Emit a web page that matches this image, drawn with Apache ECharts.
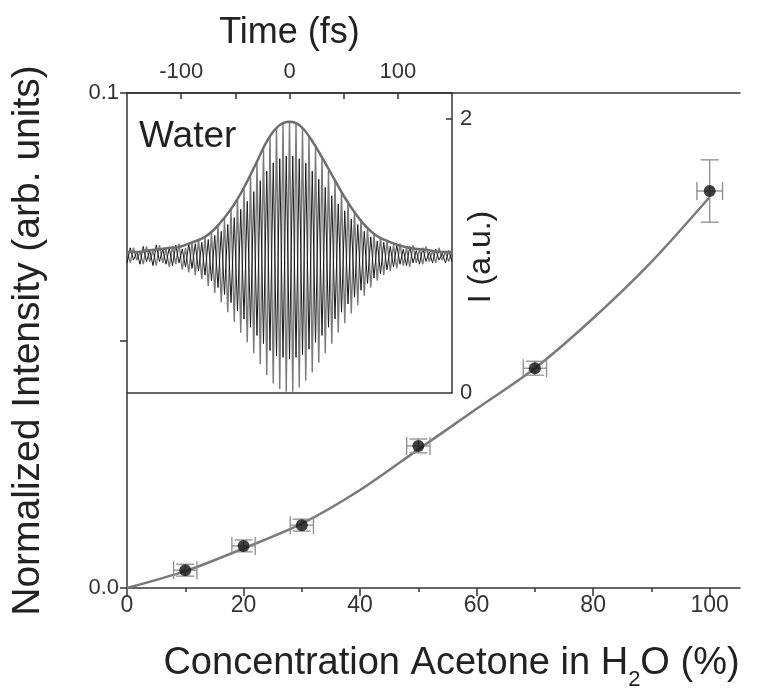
<!DOCTYPE html>
<html>
<head>
<meta charset="utf-8">
<script src="https://cdn.jsdelivr.net/npm/echarts@6/dist/echarts.min.js"></script>
<style>
html, body { margin: 0; padding: 0; background: #fff; }
#chart { width: 760px; height: 692px; }
</style>
</head>
<body>
<div id="chart"></div>
<script>
// main plot: measured points
var concentration = [10, 20, 30, 50, 70, 100];
var intensity = [0.0036, 0.0085, 0.0127, 0.0287, 0.0444, 0.0802];
var concErr = [2, 2, 2, 2, 2, 2.2];
var intensityErr = [0.0012, 0.0012, 0.0012, 0.0014, 0.0014, 0.0063];

// fitted curve
var fitX = [0, 10, 20, 30, 40, 50, 60, 70, 80, 90, 100];
var fitY = [0, 0.0034, 0.0080, 0.0130, 0.0198, 0.0280, 0.0362, 0.0444, 0.0545, 0.0659, 0.0790];

var concTicks = [0, 20, 40, 60, 80, 100];
var concMinorTicks = [10, 30, 50, 70, 90];
var intensityTicks = [0, 0.05, 0.1];
var intensityLabels = [0, 0.1];

// inset: autocorrelation trace (water)
var timeTicks = [-100, -50, 0, 50, 100];
var timeLabels = [-100, 0, 100];
var autoTicks = [2];
var autoLabels = [0, 2];

// grey trace: maxima every 6 fs from -150, minima every 6 fs from -147
var greyPeaks = [1.04, 1.06, 1.03, 1.07, 1.04, 1.08, 1.05, 1.07, 1.09, 1.06,
  1.10, 1.12, 1.14, 1.17, 1.22, 1.27, 1.34, 1.41, 1.49, 1.58,
  1.68, 1.78, 1.87, 1.93, 1.97, 1.98, 1.97, 1.93, 1.87, 1.79,
  1.71, 1.62, 1.55, 1.47, 1.40, 1.33, 1.27, 1.21, 1.16, 1.14,
  1.11, 1.08, 1.09, 1.06, 1.08, 1.05, 1.07, 1.04, 1.06, 1.03, 1.04];
var greyTroughs = [0.95, 0.97, 0.94, 0.96, 0.93, 0.95, 0.92, 0.94, 0.90, 0.88,
  0.86, 0.83, 0.78, 0.73, 0.66, 0.59, 0.52, 0.44, 0.37, 0.29,
  0.21, 0.13, 0.07, 0.03, 0.01, 0.01, 0.04, 0.09, 0.15, 0.22,
  0.29, 0.36, 0.44, 0.51, 0.58, 0.64, 0.71, 0.77, 0.82, 0.86,
  0.89, 0.91, 0.93, 0.92, 0.95, 0.94, 0.96, 0.95, 0.97, 0.96];

// black trace: minima every 6 fs from -150, maxima every 6 fs from -147
var blackTroughs = [0.95, 0.97, 0.94, 0.96, 0.93, 0.96, 0.94, 0.93, 0.95, 0.92,
  0.91, 0.89, 0.86, 0.82, 0.77, 0.72, 0.66, 0.60, 0.54, 0.48,
  0.42, 0.36, 0.31, 0.27, 0.26, 0.25, 0.26, 0.28, 0.32, 0.37,
  0.42, 0.48, 0.54, 0.59, 0.65, 0.70, 0.75, 0.80, 0.84, 0.87,
  0.90, 0.92, 0.94, 0.93, 0.95, 0.94, 0.96, 0.95, 0.97, 0.95, 0.96];
var blackPeaks = [1.06, 1.03, 1.07, 1.04, 1.08, 1.05, 1.06, 1.08, 1.05, 1.09,
  1.09, 1.10, 1.12, 1.15, 1.18, 1.23, 1.28, 1.34, 1.40, 1.47,
  1.55, 1.62, 1.68, 1.71, 1.73, 1.73, 1.71, 1.68, 1.62, 1.56,
  1.50, 1.44, 1.38, 1.33, 1.27, 1.23, 1.18, 1.14, 1.11, 1.10,
  1.07, 1.08, 1.05, 1.07, 1.04, 1.06, 1.03, 1.05, 1.02, 1.04];

// smooth envelope every 10 fs from -150 to 150
var envTime = [-150, -140, -130, -120, -110, -100, -90, -80, -70, -60, -50, -40, -30, -20, -10,
  0, 10, 20, 30, 40, 50, 60, 70, 80, 90, 100, 110, 120, 130, 140, 150];
var envValue = [1.03, 1.03, 1.04, 1.05, 1.06, 1.07, 1.10, 1.13, 1.19, 1.28, 1.39, 1.53, 1.69, 1.85, 1.95,
  1.98, 1.95, 1.85, 1.72, 1.58, 1.44, 1.32, 1.22, 1.15, 1.11, 1.08, 1.06, 1.05, 1.04, 1.03, 1.03];

var FONT = 'Liberation Sans, Arial, sans-serif';
var LINE = '#333';

var pointData = concentration.map(function (c, i) {
  return [c, intensity[i], concErr[i], intensityErr[i]];
});
var fitData = fitX.map(function (x, i) { return [x, fitY[i]]; });

// interleave extremes: even slots at -150 + 6i, odd slots at -147 + 6i
function trace(even, odd) {
  var out = [];
  for (var i = 0; i < even.length; i++) {
    out.push([-150 + 6 * i, even[i]]);
    if (i < odd.length) out.push([-147 + 6 * i, odd[i]]);
  }
  return out;
}
var greyData = trace(greyPeaks, greyTroughs);
var blackData = trace(blackTroughs, blackPeaks);
var envData = envTime.map(function (t, i) { return [t, envValue[i]]; });

function plainAxis(grid, pos, min, max) {
  return {
    gridIndex: grid, type: 'value', position: pos, min: min, max: max,
    axisLine: { show: true, onZero: false, lineStyle: { color: LINE, width: 1.5 } },
    axisTick: { show: false }, axisLabel: { show: false }, splitLine: { show: false }
  };
}

function errorBars(params, api) {
  var x = api.value(0), y = api.value(1), ex = api.value(2), ey = api.value(3);
  var c = api.coord([x, y]);
  var l = api.coord([x - ex, y]);
  var r = api.coord([x + ex, y]);
  var t = api.coord([x, y + ey]);
  var b = api.coord([x, y - ey]);
  var cap = 9;
  var st = { stroke: '#8c8c8c', lineWidth: 1.3 };
  function seg(x1, y1, x2, y2) {
    return { type: 'line', shape: { x1: x1, y1: y1, x2: x2, y2: y2 }, style: st };
  }
  return {
    type: 'group',
    children: [
      seg(l[0], c[1], r[0], c[1]),
      seg(l[0], c[1] - cap, l[0], c[1] + cap),
      seg(r[0], c[1] - cap, r[0], c[1] + cap),
      seg(c[0], t[1], c[0], b[1]),
      seg(c[0] - cap, t[1], c[0] + cap, t[1]),
      seg(c[0] - cap, b[1], c[0] + cap, b[1])
    ]
  };
}

var chart = echarts.init(document.getElementById('chart'));
var option = {
  backgroundColor: '#fff',
  animation: false,
  textStyle: { fontFamily: FONT },
  grid: [
    { left: 127, top: 93, width: 613, height: 495, outerBoundsMode: 'none', containLabel: false },
    { left: 127, top: 93, width: 325, height: 300, outerBoundsMode: 'none', containLabel: false }
  ],
  xAxis: [
    {
      gridIndex: 0, type: 'value', position: 'bottom', min: 0, max: 105.2,
      axisLine: { onZero: false, lineStyle: { color: LINE, width: 1.5 } },
      axisTick: { customValues: concTicks, length: 8, lineStyle: { color: LINE, width: 1.5 } },
      axisLabel: { customValues: concTicks, fontSize: 23, color: '#333', margin: 6, fontFamily: FONT },
      splitLine: { show: false },
      name: '{a|Concentration Acetone in H}{s|2}{a|O (%)}',
      nameLocation: 'middle', nameGap: 57,
      nameTextStyle: {
        fontFamily: FONT, color: '#222', padding: [0, 0, 0, 36],
        rich: {
          a: { fontSize: 38, fontFamily: FONT, color: '#222', lineHeight: 46, verticalAlign: 'top' },
          s: { fontSize: 22, fontFamily: FONT, color: '#222', lineHeight: 20, verticalAlign: 'bottom' }
        }
      }
    },
    {
      gridIndex: 0, type: 'value', position: 'bottom', min: 0, max: 105.2,
      axisLine: { show: false, onZero: false },
      axisTick: { customValues: concMinorTicks, length: 4, lineStyle: { color: LINE, width: 1.5 } },
      axisLabel: { show: false }, splitLine: { show: false }
    },
    plainAxis(0, 'top', 0, 105.2),
    {
      gridIndex: 1, type: 'value', position: 'top', min: -150, max: 150,
      axisLine: { onZero: false, lineStyle: { color: LINE, width: 1.5 } },
      axisTick: { customValues: timeTicks, inside: true, length: 6, lineStyle: { color: LINE, width: 1.5 } },
      axisLabel: { customValues: timeLabels, fontSize: 22, color: '#333', margin: 10, fontFamily: FONT },
      splitLine: { show: false },
      name: 'Time (fs)', nameLocation: 'middle', nameGap: 42,
      nameTextStyle: { fontSize: 36, color: '#222', fontFamily: FONT }
    },
    plainAxis(1, 'bottom', -150, 150)
  ],
  yAxis: [
    {
      gridIndex: 0, type: 'value', position: 'left', min: 0, max: 0.1,
      axisLine: { onZero: false, lineStyle: { color: LINE, width: 1.5 } },
      axisTick: { customValues: intensityTicks, length: 7, lineStyle: { color: LINE, width: 1.5 } },
      axisLabel: {
        customValues: intensityLabels, fontSize: 22, color: '#333', margin: 8, fontFamily: FONT,
        formatter: function (v) { return v.toFixed(1); }
      },
      splitLine: { show: false },
      name: 'Normalized Intensity (arb. units)', nameLocation: 'middle', nameGap: 79,
      nameTextStyle: { fontSize: 39, color: '#222', fontFamily: FONT }
    },
    {
      gridIndex: 1, type: 'value', position: 'right', min: 0, max: 2.19,
      axisLine: { onZero: false, lineStyle: { color: LINE, width: 1.5 } },
      axisTick: { customValues: autoTicks, inside: true, length: 6, lineStyle: { color: LINE, width: 1.5 } },
      axisLabel: { customValues: autoLabels, fontSize: 22, color: '#333', margin: 8, fontFamily: FONT },
      splitLine: { show: false },
      name: 'I (a.u.)', nameLocation: 'middle', nameGap: 13, nameRotate: 90,
      nameMoveOverlap: false,
      nameTextStyle: { fontSize: 32, color: '#222', fontFamily: FONT, padding: [0, 28, 0, 0] }
    }
  ],
  graphic: [
    { type: 'text', left: 139, top: 118, z: 10,
      style: { text: 'Water', fontSize: 37, fontFamily: FONT, fill: '#222' } }
  ],
  series: [
    {
      type: 'line', xAxisIndex: 0, yAxisIndex: 0, data: fitData, smooth: 0.3,
      symbol: 'none', lineStyle: { color: '#7a7a7a', width: 2.5 }, z: 2
    },
    {
      type: 'custom', xAxisIndex: 0, yAxisIndex: 0, data: pointData,
      renderItem: errorBars, z: 3
    },
    {
      type: 'scatter', xAxisIndex: 0, yAxisIndex: 0, data: pointData,
      symbolSize: 12, itemStyle: { color: '#111' }, z: 4
    },
    {
      type: 'line', xAxisIndex: 3, yAxisIndex: 1, data: greyData,
      symbol: 'none', lineStyle: { color: '#7a7a7a', width: 1.4 }, z: 2
    },
    {
      type: 'line', xAxisIndex: 3, yAxisIndex: 1, data: blackData,
      symbol: 'none', lineStyle: { color: '#1a1a1a', width: 1 }, z: 2
    },
    {
      type: 'line', xAxisIndex: 3, yAxisIndex: 1, data: envData, smooth: 0.4,
      symbol: 'none', lineStyle: { color: '#6e6e6e', width: 2.5 }, z: 3
    }
  ]
};
chart.setOption(option);
</script>
</body>
</html>
